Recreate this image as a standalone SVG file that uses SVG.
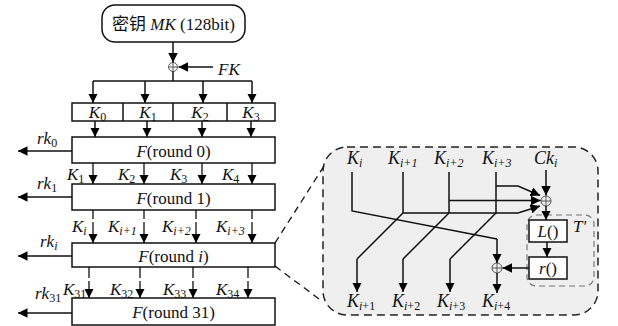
<svg xmlns="http://www.w3.org/2000/svg" width="618" height="326" viewBox="0 0 618 326">
  <defs>
    <marker id="arr" viewBox="0 0 10 10" refX="10" refY="5" markerWidth="9.5" markerHeight="9.5" markerUnits="userSpaceOnUse" orient="auto">
      <path d="M0,0 L10,5 L0,10 z" fill="#000"/>
    </marker>
    <style>
      text { font-family: "Liberation Serif", "Noto Sans CJK SC", serif; font-size: 17px; fill: #111; }
      .it { font-style: italic; }
      .sub { font-size: 12px; }
      .box { fill: #fff; stroke: #111; stroke-width: 1.5; }
      .ln { fill: none; stroke: #111; stroke-width: 1.5; }
      .thin { fill: none; stroke: #111; stroke-width: 1.3; }
      .ar { marker-end: url(#arr); }
      .xor { fill: none; stroke: #555; stroke-width: 1; }
      .big { font-size: 18px; }
    </style>
  </defs>

  <!-- master key -->
  <g id="mk">
    <rect x="102" y="5" width="143" height="37" rx="13" class="box"/>
    <text x="173.5" y="30" text-anchor="middle">密钥 <tspan class="it">MK</tspan> (128bit)</text>
  </g>

  <!-- XOR with FK -->
  <g id="xorFK">
    <circle cx="173" cy="67" r="4.5" class="xor"/>
    <path d="M168.5,67 H177.5 M173,62.5 V71.5" class="xor"/>
    <text x="218" y="75" class="it">FK</text>
  </g>

  <!-- K0..K3 register -->
  <g id="kreg">
    <rect x="72" y="103" width="203" height="18" class="box"/>
    <path d="M123,103 V121 M173,103 V121 M227,103 V121" class="ln" stroke-width="1"/>
    <text x="97.5" y="118" text-anchor="middle"><tspan class="it">K</tspan><tspan class="sub" dy="3">0</tspan></text>
    <text x="148" y="118" text-anchor="middle"><tspan class="it">K</tspan><tspan class="sub" dy="3">1</tspan></text>
    <text x="200" y="118" text-anchor="middle"><tspan class="it">K</tspan><tspan class="sub" dy="3">2</tspan></text>
    <text x="251" y="118" text-anchor="middle"><tspan class="it">K</tspan><tspan class="sub" dy="3">3</tspan></text>
  </g>

  <!-- round boxes -->
  <g id="round0">
    <rect x="72" y="137" width="203" height="26" class="box"/>
    <text x="173.5" y="156.5" text-anchor="middle"><tspan class="it">F</tspan>(round 0)</text>
  </g>
  <g id="round1">
    <rect x="72" y="184" width="203" height="26" class="box"/>
    <text x="173.5" y="203.5" text-anchor="middle"><tspan class="it">F</tspan>(round 1)</text>
  </g>
  <g id="roundi">
    <rect x="72" y="243" width="203" height="24" class="box"/>
    <text x="173.5" y="261.5" text-anchor="middle"><tspan class="it">F</tspan>(round <tspan class="it">i</tspan>)</text>
  </g>
  <g id="round31">
    <rect x="72" y="298" width="203" height="27" class="box"/>
    <text x="173.5" y="318" text-anchor="middle"><tspan class="it">F</tspan>(round 31)</text>
  </g>

  <!-- round key outputs -->
  <g id="rklabels">
    <text x="37" y="144"><tspan class="it">rk</tspan><tspan class="sub" dy="3">0</tspan></text>
    <text x="37" y="189"><tspan class="it">rk</tspan><tspan class="sub" dy="3">1</tspan></text>
    <text x="40" y="247"><tspan class="it">rk</tspan><tspan class="sub it" dy="3">i</tspan></text>
    <text x="35" y="299"><tspan class="it">rk</tspan><tspan class="sub" dy="3">31</tspan></text>
  </g>

  <!-- intermediate word labels -->
  <g id="klabels">
    <text x="67" y="180"><tspan class="it">K</tspan><tspan class="sub" dy="3">1</tspan></text>
    <text x="118" y="180"><tspan class="it">K</tspan><tspan class="sub" dy="3">2</tspan></text>
    <text x="170" y="180"><tspan class="it">K</tspan><tspan class="sub" dy="3">3</tspan></text>
    <text x="222" y="180"><tspan class="it">K</tspan><tspan class="sub" dy="3">4</tspan></text>

    <text x="72" y="232"><tspan class="it">K</tspan><tspan class="sub it" dy="3">i</tspan></text>
    <text x="108" y="232"><tspan class="it">K</tspan><tspan class="sub it" dy="3">i+1</tspan></text>
    <text x="162" y="232"><tspan class="it">K</tspan><tspan class="sub it" dy="3">i+2</tspan></text>
    <text x="216" y="232"><tspan class="it">K</tspan><tspan class="sub it" dy="3">i+3</tspan></text>

    <text x="63" y="295"><tspan class="it">K</tspan><tspan class="sub" dy="3">31</tspan></text>
    <text x="110" y="295"><tspan class="it">K</tspan><tspan class="sub" dy="3">32</tspan></text>
    <text x="163" y="295"><tspan class="it">K</tspan><tspan class="sub" dy="3">33</tspan></text>
    <text x="216" y="295"><tspan class="it">K</tspan><tspan class="sub" dy="3">34</tspan></text>
  </g>

  <!-- detail of one round -->
  <g id="detail">
    <rect x="323" y="147" width="275" height="168" rx="24" fill="#efefef" stroke="#222" stroke-width="1.5" stroke-dasharray="8 5"/>
    <rect x="527" y="215" width="67" height="71" rx="9" fill="none" stroke="#777" stroke-width="1.2" stroke-dasharray="6 4"/>
    <text x="573" y="232" class="it">T'</text>

    <text x="347" y="164" class="big"><tspan class="it">K</tspan><tspan class="sub it" dy="3">i</tspan></text>
    <text x="388" y="164" class="big"><tspan class="it">K</tspan><tspan class="sub it" dy="3">i+1</tspan></text>
    <text x="434" y="164" class="big"><tspan class="it">K</tspan><tspan class="sub it" dy="3">i+2</tspan></text>
    <text x="482" y="164" class="big"><tspan class="it">K</tspan><tspan class="sub it" dy="3">i+3</tspan></text>
    <text x="534" y="164" class="big"><tspan class="it">Ck</tspan><tspan class="sub it" dy="3">i</tspan></text>

    <text x="347" y="307" class="big"><tspan class="it">K</tspan><tspan class="sub" dy="3"><tspan class="it">i</tspan>+1</tspan></text>
    <text x="392" y="307" class="big"><tspan class="it">K</tspan><tspan class="sub" dy="3"><tspan class="it">i</tspan>+2</tspan></text>
    <text x="437" y="307" class="big"><tspan class="it">K</tspan><tspan class="sub" dy="3"><tspan class="it">i</tspan>+3</tspan></text>
    <text x="482" y="307" class="big"><tspan class="it">K</tspan><tspan class="sub" dy="3"><tspan class="it">i</tspan>+4</tspan></text>
  </g>

  <g id="xorTop">
    <circle cx="546" cy="201" r="5" fill="#efefef" stroke="#555" stroke-width="1"/>
    <path d="M541,201 H551 M546,196 V206" class="xor"/>
  </g>
  <g id="xorBottom">
    <circle cx="497" cy="268" r="5" fill="#efefef" stroke="#555" stroke-width="1"/>
    <path d="M492,268 H502 M497,263 V273" class="xor"/>
  </g>
  <g id="boxL">
    <rect x="529" y="220" width="38" height="22" class="box"/>
    <text x="548" y="237" text-anchor="middle"><tspan class="it">L</tspan>()</text>
  </g>
  <g id="boxR">
    <rect x="529" y="257" width="38" height="22" class="box"/>
    <text x="548" y="274" text-anchor="middle"><tspan class="it">r</tspan>()</text>
  </g>

  <!-- connectors -->
  <g id="connectors">
    <!-- key setup -->
    <line x1="173" y1="42" x2="173" y2="62.5" class="ln ar"/>
    <line x1="213" y1="67" x2="178.5" y2="67" class="ln ar"/>
    <line x1="173" y1="71.5" x2="173" y2="81" class="ln"/>
    <line x1="93" y1="81" x2="252" y2="81" class="ln"/>
    <line x1="93" y1="81" x2="93" y2="103" class="ln ar"/>
    <line x1="145" y1="81" x2="145" y2="103" class="ln ar"/>
    <line x1="203" y1="81" x2="203" y2="103" class="ln ar"/>
    <line x1="252" y1="81" x2="252" y2="103" class="ln ar"/>

    <line x1="95" y1="121" x2="95" y2="137" class="ln ar"/>
    <line x1="147" y1="121" x2="147" y2="137" class="ln ar"/>
    <line x1="202" y1="121" x2="202" y2="137" class="ln ar"/>
    <line x1="251" y1="121" x2="251" y2="137" class="ln ar"/>

    <!-- round 0 to round 1 -->
    <line x1="93" y1="163" x2="93" y2="184" class="thin ar"/>
    <line x1="144" y1="163" x2="144" y2="184" class="thin ar"/>
    <line x1="202" y1="163" x2="202" y2="184" class="thin ar"/>
    <line x1="252" y1="163" x2="252" y2="184" class="thin ar"/>

    <!-- round 1 to round i (elided rounds) -->
    <path d="M93,210 V219 M144,210 V219 M196,210 V219 M252,210 V219" class="thin"/>
    <line x1="93" y1="222" x2="93" y2="243" class="thin ar"/>
    <line x1="144" y1="222" x2="144" y2="243" class="thin ar"/>
    <line x1="196" y1="222" x2="196" y2="243" class="thin ar"/>
    <line x1="252" y1="222" x2="252" y2="243" class="thin ar"/>

    <!-- round i to round 31 (elided rounds) -->
    <path d="M89,267 V278 M140,267 V278 M193,267 V278 M248,267 V278" class="thin"/>
    <line x1="89" y1="281" x2="89" y2="298" class="thin ar"/>
    <line x1="140" y1="281" x2="140" y2="298" class="thin ar"/>
    <line x1="193" y1="281" x2="193" y2="298" class="thin ar"/>
    <line x1="248" y1="281" x2="248" y2="298" class="thin ar"/>

    <!-- round key outputs -->
    <line x1="72" y1="151" x2="18" y2="151" class="ln ar"/>
    <line x1="72" y1="197" x2="18" y2="197" class="ln ar"/>
    <line x1="72" y1="256" x2="18" y2="256" class="ln ar"/>
    <line x1="72" y1="313" x2="18" y2="313" class="ln ar"/>

    <!-- zoom lines to detail -->
    <line x1="275" y1="243" x2="324" y2="166" stroke="#111" stroke-width="1.3" stroke-dasharray="7 5"/>
    <line x1="275" y1="266" x2="323" y2="302" stroke="#111" stroke-width="1.3" stroke-dasharray="7 5"/>

    <!-- detail wiring -->
    <polyline points="352,172 352,211 497,239" class="ln"/>
    <line x1="497" y1="239" x2="497" y2="263" class="ln ar"/>

    <line x1="403" y1="172" x2="403" y2="213" class="ln"/>
    <line x1="449" y1="172" x2="449" y2="213" class="ln"/>
    <line x1="496" y1="172" x2="496" y2="213" class="ln"/>

    <polyline points="403,213 518,213 540,206" class="ln ar"/>
    <line x1="449" y1="200.5" x2="540.5" y2="200.5" class="ln ar"/>
    <polyline points="496,186 518,186 540,195.5" class="ln ar"/>

    <polyline points="403,213 357,259" class="ln"/>
    <line x1="357" y1="259" x2="357" y2="292" class="ln ar"/>
    <polyline points="449,213 403,259" class="ln"/>
    <line x1="403" y1="259" x2="403" y2="292" class="ln ar"/>
    <polyline points="496,213 450,259" class="ln"/>
    <line x1="450" y1="259" x2="450" y2="292" class="ln ar"/>

    <line x1="546" y1="170" x2="546" y2="195.5" class="ln ar"/>
    <line x1="546" y1="206" x2="546" y2="220" class="ln ar"/>
    <line x1="547" y1="242" x2="547" y2="257" class="ln ar"/>
    <line x1="529" y1="268" x2="502.5" y2="268" class="ln ar"/>
    <line x1="497" y1="273" x2="497" y2="293" class="ln ar"/>
  </g>
</svg>
